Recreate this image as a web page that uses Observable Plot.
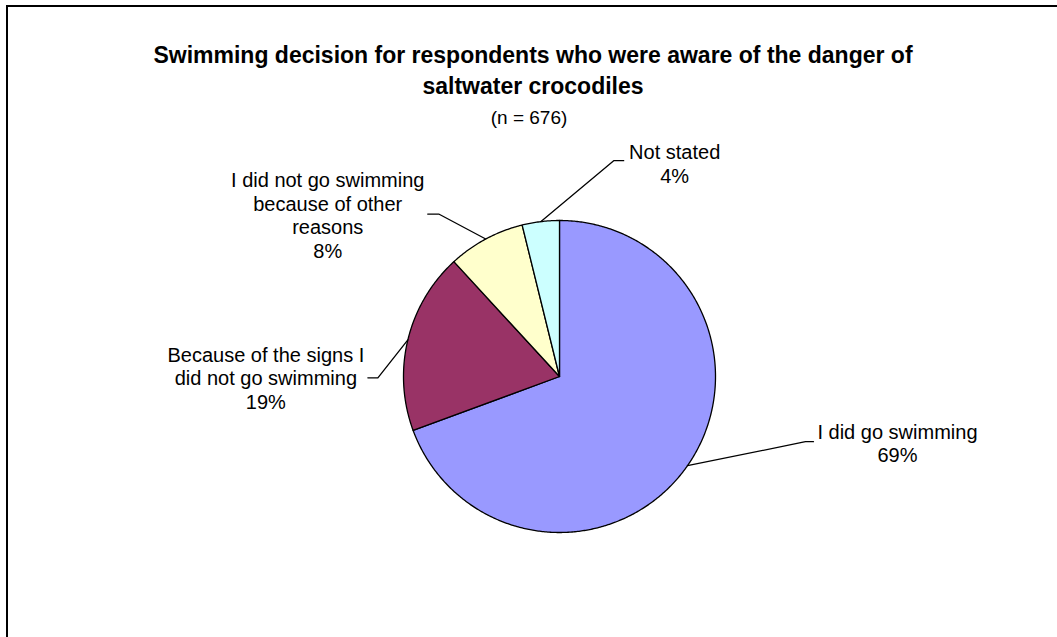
<!DOCTYPE html>
<html><head><meta charset="utf-8">
<script src="https://cdn.jsdelivr.net/npm/d3@7"></script>
<script src="https://cdn.jsdelivr.net/npm/@observablehq/plot@0.6"></script>
<style>
html,body{margin:0;padding:0;background:#fff;overflow:hidden;}
#wrap{position:relative;width:1057px;height:637px;overflow:hidden;}
#border{position:absolute;left:6px;top:5px;width:1200px;height:800px;border-left:2px solid #000;border-top:2px solid #000;}
#chart{position:absolute;left:0;top:0;}
</style></head><body>
<div id="wrap"><div id="border"></div><div id="chart"></div></div>
<script>
// ---- data ----
const categories = [
  "I did go swimming",
  "Because of the signs I did not go swimming",
  "I did not go swimming because of other reasons",
  "Not stated"
];
const counts = [469, 127, 54, 26];
const colors = ["#9999FF", "#993366", "#FFFFCC", "#CCFFFF"];
const labelText = [
  "I did go swimming",
  "Because of the signs I\ndid not go swimming",
  "I did not go swimming\nbecause of other\nreasons",
  "Not stated"
];
const titleLines = ["Swimming decision for respondents who were aware of the danger of", "saltwater crocodiles"];
const subtitle = "(n = 676)";

// ---- layout (pixels) ----
const W = 1057, H = 637, CX = 559, CY = 376, R = 156;
// leader elbow/end and label block (center, top) as offsets from each slice's edge anchor
const labelLayout = [
  {elbow: [118, -24], end: [126, -24], text: [210, -44]},
  {elbow: [-30, 38], end: [-40, 38], text: [-142, 5]},
  {elbow: [-47, -25], end: [-58, -25], text: [-158, -69]},
  {elbow: [73, -61], end: [83, -61], text: [134, -79]}
];
const FONT = "'Liberation Sans', Arial, Helvetica, sans-serif";

const total = d3.sum(counts);
const pie = d3.pie().sort(null).value(d => d)(counts);
const pt = (a, r) => [CX + r * Math.sin(a), CY - r * Math.cos(a)];

// slice polygons
const slicePts = [];
pie.forEach((p, i) => {
  const cat = categories[i];
  slicePts.push({cat, x: CX, y: CY});
  const n = Math.max(2, Math.ceil((p.endAngle - p.startAngle) / (Math.PI / 360)));
  for (let k = 0; k <= n; k++) {
    const a = p.startAngle + (p.endAngle - p.startAngle) * k / n;
    const [x, y] = pt(a, R);
    slicePts.push({cat, x, y});
  }
});

// leaders and labels
const leaderPts = [];
const labels = [];
pie.forEach((p, i) => {
  const cat = categories[i];
  const mid = (p.startAngle + p.endAngle) / 2;
  const [ax, ay] = pt(mid, R);
  const L = labelLayout[i];
  leaderPts.push({cat, x: ax, y: ay});
  leaderPts.push({cat, x: ax + L.elbow[0], y: ay + L.elbow[1]});
  leaderPts.push({cat, x: ax + L.end[0], y: ay + L.end[1]});
  labels.push({
    x: ax + L.text[0], y: ay + L.text[1],
    text: labelText[i] + "\n" + Math.round(p.value / total * 100) + "%"
  });
});

const chart = Plot.plot({
  width: W, height: H,
  margin: 0,
  x: {domain: [0, W], range: [0, W], axis: null},
  y: {domain: [0, H], range: [0, H], axis: null},
  color: {domain: categories, range: colors},
  style: {fontFamily: FONT, background: "transparent"},
  marks: [
    Plot.line(slicePts, {x: "x", y: "y", z: "cat", fill: "cat", stroke: "#000", strokeWidth: 1.3, curve: "linear-closed", strokeLinejoin: "round"}),
    Plot.line(leaderPts, {x: "x", y: "y", z: "cat", stroke: "#000", strokeWidth: 1.3}),
    Plot.text(labels, {x: "x", y: "y", text: "text", textAnchor: "middle", lineAnchor: "top", fontSize: 20, lineHeight: 1.185, fill: "#000", fontFamily: FONT}),
    Plot.text([titleLines.join("\n")], {frameAnchor: "top", dx: 4, dy: 40, lineAnchor: "top", fontSize: 23, fontWeight: "bold", lineHeight: 1.36, fill: "#000", fontFamily: FONT}),
    Plot.text([subtitle], {frameAnchor: "top", dx: 0, dy: 110, lineAnchor: "top", fontSize: 19, fill: "#000", fontFamily: FONT})
  ]
});
document.getElementById("chart").appendChild(chart);
</script>
</body></html>
